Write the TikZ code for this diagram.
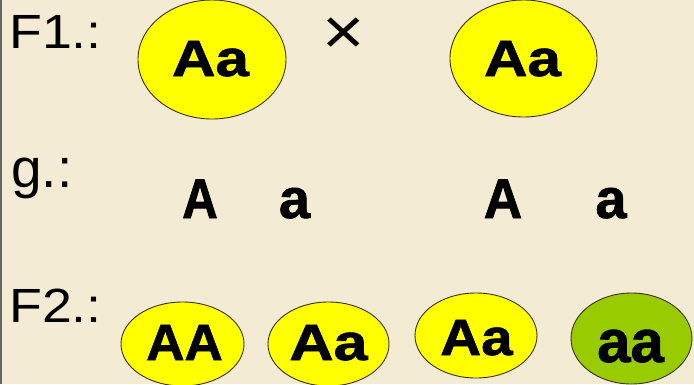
\documentclass[tikz,border=0pt]{standalone}
\usepackage{fontspec}
\setmainfont{Liberation Sans}[BoldFeatures={FakeBold=1.3}]
\usetikzlibrary{shapes.geometric}
\definecolor{bg}{RGB}{243,235,211}
\definecolor{yel}{RGB}{255,255,0}
\definecolor{grn}{RGB}{153,204,0}
\definecolor{edgec}{RGB}{60,50,20}
\newcommand{\gsz}[1]{\fontsize{#1}{#1}\selectfont}
\begin{document}
\begin{tikzpicture}[x=1pt,y=-1pt,
  pod/.style={ellipse, draw=edgec, line width=0.9pt, inner sep=0pt},
  lbl/.style={anchor=base west, inner sep=0pt, font=\gsz{48}},
  geno/.style={anchor=base, inner sep=0pt, font=\bfseries\gsz{51}},
  gam/.style={anchor=base, inner sep=0pt, font=\bfseries\gsz{56}}]
\fill[bg] (0,0) rectangle (694,384);
\useasboundingbox (0,0) rectangle (694,384);
\draw[black!60, line width=2pt] (1,0) -- (1,384);
% F1 parents
\node[pod, fill=yel, minimum width=148pt, minimum height=119pt] (p1) at (212,59.5) {};
\node[pod, fill=yel, minimum width=147pt, minimum height=117pt] (p2) at (523.5,58.5) {};
% F2 offspring
\node[pod, fill=yel, minimum width=123pt, minimum height=84pt] (c1) at (182.5,344) {};
\node[pod, fill=yel, minimum width=121pt, minimum height=84pt] (c2) at (328.5,344) {};
\node[pod, fill=yel, minimum width=122pt, minimum height=85pt] (c3) at (476,335.5) {};
\node[pod, fill=grn, minimum width=121pt, minimum height=91pt] (c4) at (631.5,338.5) {};
% genotype texts
\node[geno] (tp1) at (210.5,76) {\scalebox{1.18}[1]{Aa}};
\node[geno] (tp2) at (522.5,76) {\scalebox{1.18}[1]{Aa}};
\node[geno] (tc1) at (184.5,360) {\scalebox{1.04}[1]{AA}};
\node[geno] (tc2) at (328.5,360) {\scalebox{1.2}[1]{Aa}};
\node[geno] (tc3) at (476.5,355) {\scalebox{1.11}[1]{Aa}};
\node[geno, font=\bfseries\gsz{60}] (tc4) at (630.5,362) {aa};
% cross sign
\node[anchor=base, inner sep=0pt, font=\gsz{66}] (cross) at (344,54) {\scalebox{1.1}[1]{×}};
% gametes
\node[gam] (g1) at (200,218) {\scalebox{0.88}[1]{A}};
\node[gam] (g2) at (294.5,218) {a};
\node[gam] (g3) at (503,218) {\scalebox{0.95}[1]{A}};
\node[gam] (g4) at (611,218) {a};
% row labels
\node[lbl] (lf1) at (9,48) {\scalebox{1.12}[1]{F1.:}};
\node[lbl, font=\gsz{55}] (lg) at (11,187) {g.:};
\node[lbl] (lf2) at (9,322) {\scalebox{1.12}[1]{F2.:}};
\end{tikzpicture}
\end{document}
